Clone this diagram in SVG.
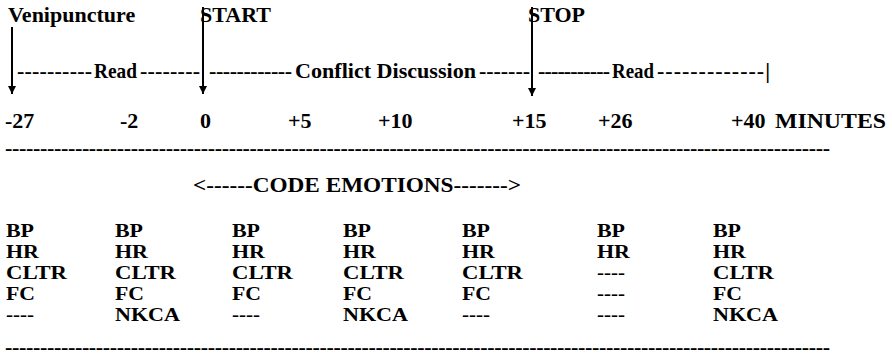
<svg xmlns="http://www.w3.org/2000/svg" width="892" height="363" viewBox="0 0 892 363">
<defs>
<style>
text{font-family:"Liberation Serif","Times New Roman",serif;font-weight:bold;font-size:22px;fill:#000}
text.c{font-size:18.9px}
.ln{stroke:#000;stroke-width:2;fill:none}
</style>
<marker id="ah" viewBox="0 0 10 10" refX="10" refY="5" markerWidth="11" markerHeight="8" markerUnits="userSpaceOnUse" orient="auto"><path d="M0,0 L10,5 L0,10 Z" fill="#000"/></marker>
</defs>
<rect width="892" height="363" fill="#fff"/>
<g id="events">
<text x="8" y="22">Venipuncture</text>
<text x="200" y="22">START</text>
<text x="528" y="22">STOP</text>
</g>
<g id="connectors">
<line class="ln" x1="12" y1="27" x2="12" y2="94" marker-end="url(#ah)"/>
<line class="ln" x1="203" y1="7" x2="203" y2="94" marker-end="url(#ah)"/>
<line class="ln" x1="532" y1="7" x2="532" y2="96" marker-end="url(#ah)"/>
</g>
<g id="phases">
<text x="17" y="78" textLength="75" lengthAdjust="spacing">----------</text>
<text x="94" y="78" textLength="43" lengthAdjust="spacingAndGlyphs">Read</text>
<text x="140" y="78" textLength="60" lengthAdjust="spacing">--------</text>
<text x="209" y="78" textLength="83" lengthAdjust="spacing">------------</text>
<text x="295" y="78" textLength="181" lengthAdjust="spacingAndGlyphs">Conflict Discussion</text>
<text x="479" y="78" textLength="51" lengthAdjust="spacing">-------</text>
<text x="538" y="78" textLength="72" lengthAdjust="spacing">-----------</text>
<text x="612" y="78" textLength="42" lengthAdjust="spacingAndGlyphs">Read</text>
<text x="657" y="78" textLength="113" lengthAdjust="spacing">-------------|</text>
</g>
<g id="timeline">
<text x="5" y="128">-27</text>
<text x="120" y="128">-2</text>
<text x="200" y="128">0</text>
<text x="288" y="128">+5</text>
<text x="378" y="128">+10</text>
<text x="512" y="128">+15</text>
<text x="598" y="128">+26</text>
<text x="731" y="128">+40</text>
<text x="775" y="128" textLength="111" lengthAdjust="spacingAndGlyphs">MINUTES</text>
</g>
<g id="rule-top"><text x="5" y="155" textLength="825" lengthAdjust="spacing">----------------------------------------------------------------------------------------------------------------------</text></g>
<g id="code-emotions"><text x="193" y="192" textLength="328" lengthAdjust="spacingAndGlyphs">&lt;------CODE  EMOTIONS-------&gt;</text></g>
<g id="col1">
<text class="c" x="6" y="237" textLength="28" lengthAdjust="spacingAndGlyphs">BP</text>
<text class="c" x="6" y="258" textLength="33" lengthAdjust="spacingAndGlyphs">HR</text>
<text class="c" x="6" y="279" textLength="61" lengthAdjust="spacingAndGlyphs">CLTR</text>
<text class="c" x="6" y="300" textLength="29" lengthAdjust="spacingAndGlyphs">FC</text>
<text class="c" x="6" y="321" textLength="28" lengthAdjust="spacingAndGlyphs">----</text>
</g>
<g id="col2">
<text class="c" x="115" y="237" textLength="28" lengthAdjust="spacingAndGlyphs">BP</text>
<text class="c" x="115" y="258" textLength="33" lengthAdjust="spacingAndGlyphs">HR</text>
<text class="c" x="115" y="279" textLength="61" lengthAdjust="spacingAndGlyphs">CLTR</text>
<text class="c" x="115" y="300" textLength="29" lengthAdjust="spacingAndGlyphs">FC</text>
<text class="c" x="115" y="321" textLength="65" lengthAdjust="spacingAndGlyphs">NKCA</text>
</g>
<g id="col3">
<text class="c" x="232" y="237" textLength="28" lengthAdjust="spacingAndGlyphs">BP</text>
<text class="c" x="232" y="258" textLength="33" lengthAdjust="spacingAndGlyphs">HR</text>
<text class="c" x="232" y="279" textLength="61" lengthAdjust="spacingAndGlyphs">CLTR</text>
<text class="c" x="232" y="300" textLength="29" lengthAdjust="spacingAndGlyphs">FC</text>
<text class="c" x="232" y="321" textLength="28" lengthAdjust="spacingAndGlyphs">----</text>
</g>
<g id="col4">
<text class="c" x="343" y="237" textLength="28" lengthAdjust="spacingAndGlyphs">BP</text>
<text class="c" x="343" y="258" textLength="33" lengthAdjust="spacingAndGlyphs">HR</text>
<text class="c" x="343" y="279" textLength="61" lengthAdjust="spacingAndGlyphs">CLTR</text>
<text class="c" x="343" y="300" textLength="29" lengthAdjust="spacingAndGlyphs">FC</text>
<text class="c" x="343" y="321" textLength="65" lengthAdjust="spacingAndGlyphs">NKCA</text>
</g>
<g id="col5">
<text class="c" x="462" y="237" textLength="28" lengthAdjust="spacingAndGlyphs">BP</text>
<text class="c" x="462" y="258" textLength="33" lengthAdjust="spacingAndGlyphs">HR</text>
<text class="c" x="462" y="279" textLength="61" lengthAdjust="spacingAndGlyphs">CLTR</text>
<text class="c" x="462" y="300" textLength="29" lengthAdjust="spacingAndGlyphs">FC</text>
<text class="c" x="462" y="321" textLength="28" lengthAdjust="spacingAndGlyphs">----</text>
</g>
<g id="col6">
<text class="c" x="597" y="237" textLength="28" lengthAdjust="spacingAndGlyphs">BP</text>
<text class="c" x="597" y="258" textLength="33" lengthAdjust="spacingAndGlyphs">HR</text>
<text class="c" x="597" y="279" textLength="28" lengthAdjust="spacingAndGlyphs">----</text>
<text class="c" x="597" y="300" textLength="28" lengthAdjust="spacingAndGlyphs">----</text>
<text class="c" x="597" y="321" textLength="28" lengthAdjust="spacingAndGlyphs">----</text>
</g>
<g id="col7">
<text class="c" x="713" y="237" textLength="28" lengthAdjust="spacingAndGlyphs">BP</text>
<text class="c" x="713" y="258" textLength="33" lengthAdjust="spacingAndGlyphs">HR</text>
<text class="c" x="713" y="279" textLength="61" lengthAdjust="spacingAndGlyphs">CLTR</text>
<text class="c" x="713" y="300" textLength="29" lengthAdjust="spacingAndGlyphs">FC</text>
<text class="c" x="713" y="321" textLength="65" lengthAdjust="spacingAndGlyphs">NKCA</text>
</g>
<g id="rule-bottom"><text x="5" y="354" textLength="825" lengthAdjust="spacing">----------------------------------------------------------------------------------------------------------------------</text></g>
</svg>
